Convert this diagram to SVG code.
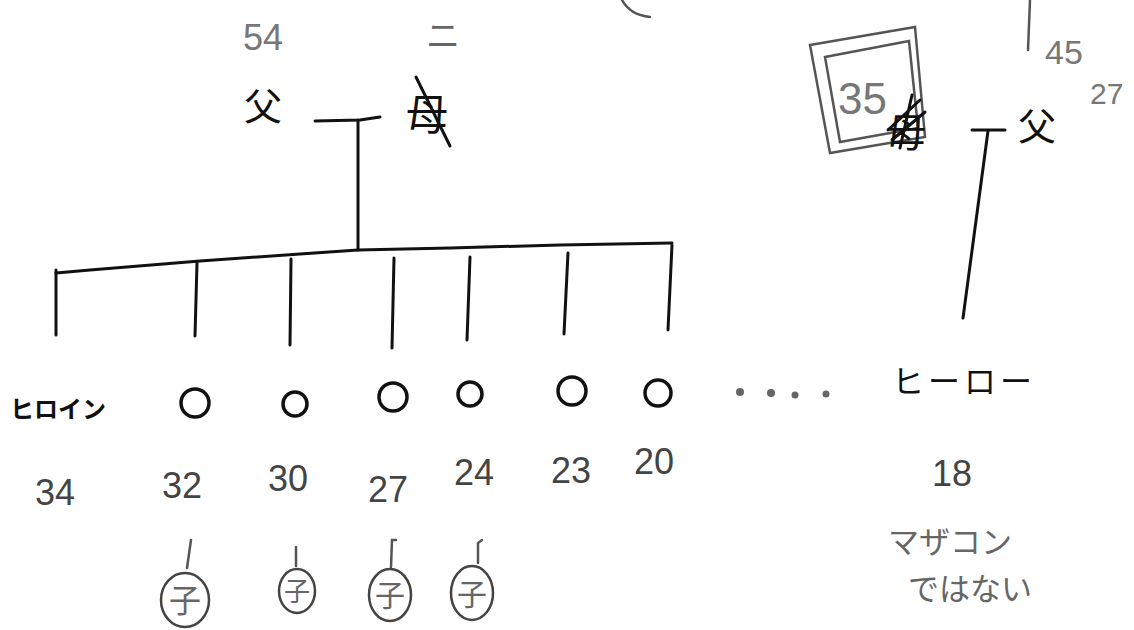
<svg xmlns="http://www.w3.org/2000/svg" width="1134" height="630" viewBox="0 0 1134 630">
<style>
.ln{stroke:#111;stroke-width:3;fill:none;stroke-linecap:round;stroke-linejoin:round}
.gl{stroke:#555;stroke-width:2.5;fill:none;stroke-linecap:round}
.c{stroke:#111;stroke-width:3.5;fill:none}
.cc{stroke:#444;stroke-width:2.5;fill:none}
.k{font-family:"Noto Sans CJK JP",sans-serif;fill:#111}
.g{font-family:"Noto Sans CJK JP",sans-serif;fill:#666}
.n{font-family:"Liberation Sans",sans-serif;fill:#444;font-size:36px}
.gn{font-family:"Liberation Sans",sans-serif;fill:#777}
</style>
<rect width="1134" height="630" fill="#fff"/>
<g id="connectors">
<path class="ln" d="M315 121 L360 120 L380 117"/>
<path class="ln" d="M358 120 L358 250"/>
<path class="ln" d="M56 273 L90 270 L200 261 L300 254 L358 250 L450 248 L560 245 L672 243"/>
<path class="ln" d="M56 270 L56 335"/>
<path class="ln" d="M197 263 L195 336"/>
<path class="ln" d="M291 259 L290 345"/>
<path class="ln" d="M394 258 L392 348"/>
<path class="ln" d="M470 257 L467 340"/>
<path class="ln" d="M568 253 L564 334"/>
<path class="ln" d="M672 245 L668 330"/>
<path class="ln" d="M972 130 L1005 130"/>
<path class="ln" d="M988 131 L963 318"/>
<path class="gl" d="M191 540 L187 568"/>
<path class="gl" d="M296 547 L296 566"/>
<path class="gl" d="M396 540 L392 540 L391 567"/>
<path class="gl" d="M482 540 L478 543 L478 563"/>
<path class="gl" d="M1030 0 L1028 50"/>
<path class="gl" d="M622 0 Q630 15 650 17"/>
</g>
<g id="father-left">
<text class="gn" x="243" y="50" font-size="36">54</text>
<text class="k" x="244" y="120" font-size="38">父</text>
</g>
<g id="mother-left">
<text class="g" x="426" y="48" font-size="34">ニ</text>
<text class="k" x="406" y="130" font-size="42">母</text>
<path class="ln" d="M416 77 L450 146"/>
</g>
<g id="mother-right">
<polygon class="gl" points="810,45 915,27 925,137 830,153"/>
<polygon class="gl" points="825,57 909,41 918,128 840,142"/>
<text class="gn" x="838" y="114" font-size="44">35</text>
<text class="k" x="886" y="147" font-size="40">母</text>
<path class="ln" d="M888 130 L920 100 M892 140 L925 112 M900 148 L912 95"/>
</g>
<g id="father-right">
<text class="gn" x="1045" y="64" font-size="34">45</text>
<text class="gn" x="1090" y="104" font-size="30">27</text>
<text class="k" x="1018" y="140" font-size="38">父</text>
</g>
<g id="heroine">
<text class="k" x="10" y="418" font-size="24" font-weight="bold">ヒロイン</text>
<text class="n" x="35" y="505">34</text>
</g>
<g id="sib1"><circle class="c" cx="195" cy="403" r="14"/><text class="n" x="162" y="498">32</text>
<ellipse class="cc" cx="185" cy="600" rx="24" ry="27"/><text class="g" x="169" y="612" font-size="32">子</text></g>
<g id="sib2"><circle class="c" cx="295" cy="404" r="12"/><text class="n" x="268" y="491">30</text>
<ellipse class="cc" cx="297" cy="591" rx="18" ry="22"/><text class="g" x="284" y="601" font-size="26">子</text></g>
<g id="sib3"><circle class="c" cx="393" cy="397" r="14"/><text class="n" x="368" y="502">27</text>
<ellipse class="cc" cx="390" cy="595" rx="21" ry="26"/><text class="g" x="375" y="606" font-size="30">子</text></g>
<g id="sib4"><circle class="c" cx="470" cy="394" r="12"/><text class="n" x="454" y="485">24</text>
<ellipse class="cc" cx="472" cy="593" rx="21" ry="27"/><text class="g" x="457" y="605" font-size="30">子</text></g>
<g id="sib5"><circle class="c" cx="572" cy="391" r="14"/><text class="n" x="551" y="483">23</text></g>
<g id="sib6"><circle class="c" cx="658" cy="393" r="13"/><text class="n" x="634" y="474">20</text></g>
<g id="dots" fill="#666">
<circle cx="740" cy="392" r="4"/><circle cx="771" cy="393" r="4"/><circle cx="795" cy="395" r="3.5"/><circle cx="826" cy="394" r="3.5"/>
</g>
<g id="hero">
<text class="k" x="892" y="393" font-size="32" letter-spacing="4">ヒーロー</text>
<text class="n" x="932" y="486" fill="#666">18</text>
<text class="g" x="888" y="553" font-size="31">マザコン</text>
<text class="g" x="908" y="600" font-size="31">ではない</text>
</g>
</svg>
